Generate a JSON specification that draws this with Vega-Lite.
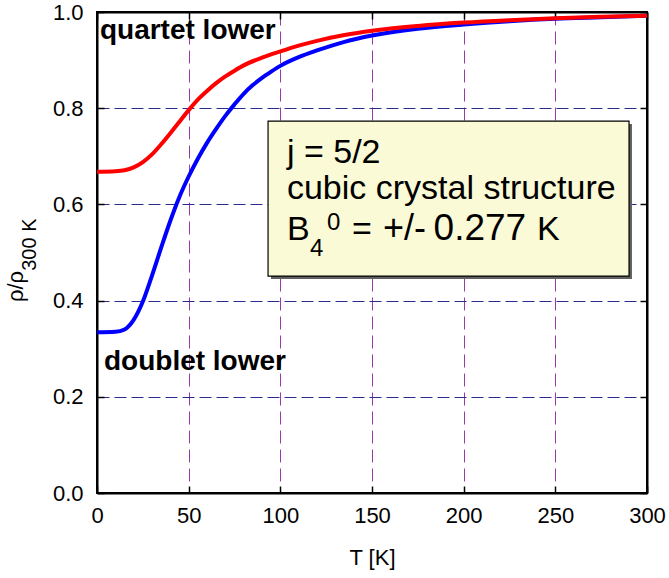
{
  "$schema": "https://vega.github.io/schema/vega-lite/v6.json",
  "width": 550,
  "height": 481,
  "autosize": {"type": "none"},
  "padding": {"left": 97, "top": 12, "right": 22, "bottom": 85},
  "background": "white",
  "config": {
    "view": {"stroke": "black", "strokeWidth": 2},
    "font": "Liberation Sans"
  },
  "datasets": {
    "curves": [
      {"T": 0, "rho": 0.334, "series": "doublet lower"},
      {"T": 10, "rho": 0.335, "series": "doublet lower"},
      {"T": 15, "rho": 0.34, "series": "doublet lower"},
      {"T": 20, "rho": 0.36, "series": "doublet lower"},
      {"T": 25, "rho": 0.398, "series": "doublet lower"},
      {"T": 30, "rho": 0.452, "series": "doublet lower"},
      {"T": 35, "rho": 0.51, "series": "doublet lower"},
      {"T": 40, "rho": 0.566, "series": "doublet lower"},
      {"T": 45, "rho": 0.616, "series": "doublet lower"},
      {"T": 50, "rho": 0.658, "series": "doublet lower"},
      {"T": 55, "rho": 0.695, "series": "doublet lower"},
      {"T": 60, "rho": 0.728, "series": "doublet lower"},
      {"T": 65, "rho": 0.757, "series": "doublet lower"},
      {"T": 70, "rho": 0.784, "series": "doublet lower"},
      {"T": 75, "rho": 0.808, "series": "doublet lower"},
      {"T": 80, "rho": 0.83, "series": "doublet lower"},
      {"T": 85, "rho": 0.848, "series": "doublet lower"},
      {"T": 90, "rho": 0.863, "series": "doublet lower"},
      {"T": 95, "rho": 0.876, "series": "doublet lower"},
      {"T": 100, "rho": 0.888, "series": "doublet lower"},
      {"T": 110, "rho": 0.906, "series": "doublet lower"},
      {"T": 120, "rho": 0.92, "series": "doublet lower"},
      {"T": 135, "rho": 0.938, "series": "doublet lower"},
      {"T": 150, "rho": 0.951, "series": "doublet lower"},
      {"T": 175, "rho": 0.965, "series": "doublet lower"},
      {"T": 200, "rho": 0.974, "series": "doublet lower"},
      {"T": 225, "rho": 0.981, "series": "doublet lower"},
      {"T": 250, "rho": 0.986, "series": "doublet lower"},
      {"T": 275, "rho": 0.989, "series": "doublet lower"},
      {"T": 300, "rho": 0.992, "series": "doublet lower"},
      {"T": 0, "rho": 0.668, "series": "quartet lower"},
      {"T": 10, "rho": 0.669, "series": "quartet lower"},
      {"T": 15, "rho": 0.671, "series": "quartet lower"},
      {"T": 20, "rho": 0.677, "series": "quartet lower"},
      {"T": 25, "rho": 0.688, "series": "quartet lower"},
      {"T": 30, "rho": 0.704, "series": "quartet lower"},
      {"T": 35, "rho": 0.725, "series": "quartet lower"},
      {"T": 40, "rho": 0.748, "series": "quartet lower"},
      {"T": 45, "rho": 0.772, "series": "quartet lower"},
      {"T": 50, "rho": 0.796, "series": "quartet lower"},
      {"T": 55, "rho": 0.818, "series": "quartet lower"},
      {"T": 60, "rho": 0.836, "series": "quartet lower"},
      {"T": 65, "rho": 0.852, "series": "quartet lower"},
      {"T": 70, "rho": 0.866, "series": "quartet lower"},
      {"T": 75, "rho": 0.878, "series": "quartet lower"},
      {"T": 80, "rho": 0.889, "series": "quartet lower"},
      {"T": 90, "rho": 0.905, "series": "quartet lower"},
      {"T": 100, "rho": 0.918, "series": "quartet lower"},
      {"T": 110, "rho": 0.93, "series": "quartet lower"},
      {"T": 120, "rho": 0.94, "series": "quartet lower"},
      {"T": 135, "rho": 0.952, "series": "quartet lower"},
      {"T": 150, "rho": 0.961, "series": "quartet lower"},
      {"T": 175, "rho": 0.971, "series": "quartet lower"},
      {"T": 200, "rho": 0.978, "series": "quartet lower"},
      {"T": 225, "rho": 0.983, "series": "quartet lower"},
      {"T": 250, "rho": 0.987, "series": "quartet lower"},
      {"T": 275, "rho": 0.99, "series": "quartet lower"},
      {"T": 300, "rho": 0.992, "series": "quartet lower"}
    ]
  },
  "resolve": {"axis": {"x": "independent", "y": "independent"}},
  "layer": [
    {
      "data": {"name": "curves"},
      "mark": {"type": "line", "strokeWidth": 4, "interpolate": "monotone"},
      "encoding": {
        "x": {
          "field": "T", "type": "quantitative",
          "scale": {"domain": [0, 300], "nice": false, "zero": false},
          "axis": {
            "orient": "bottom",
            "values": [0, 50, 100, 150, 200, 250, 300],
            "title": "T [K]",
            "titleFont": "Liberation Sans", "titleFontSize": 22, "titleFontWeight": "normal", "titleColor": "black", "titlePadding": 21,
            "labelFont": "Liberation Sans", "labelFontSize": 22, "labelColor": "black", "labelPadding": 19, "labelFlush": false,
            "tickSize": -7, "tickColor": "black", "tickWidth": 1.5,
            "domainColor": "black", "domainWidth": 2,
            "grid": true, "gridColor": "#9a3aaa", "gridDash": [13, 6], "gridWidth": 1
          }
        },
        "y": {
          "field": "rho", "type": "quantitative",
          "scale": {"domain": [0, 1], "nice": false, "zero": false},
          "axis": {
            "orient": "left",
            "values": [0, 0.2, 0.4, 0.6, 0.8, 1.0],
            "format": ".1f",
            "title": null,
            "labelFont": "Liberation Sans", "labelFontSize": 22, "labelColor": "black", "labelPadding": 21, "labelFlush": false,
            "tickSize": -7, "tickColor": "black", "tickWidth": 1.5,
            "domainColor": "black", "domainWidth": 2,
            "grid": true, "gridColor": "#2a2a90", "gridDash": [12, 5], "gridWidth": 1
          }
        },
        "color": {
          "field": "series", "type": "nominal",
          "scale": {"domain": ["quartet lower", "doublet lower"], "range": ["#ff0000", "#0000ff"]},
          "legend": null
        }
      }
    },
    {
      "data": {"name": "curves"},
      "mark": {"type": "point", "opacity": 0},
      "encoding": {
        "x": {
          "field": "T", "type": "quantitative",
          "axis": {"orient": "top", "values": [0, 50, 100, 150, 200, 250, 300], "labels": false, "title": null, "grid": false,
                   "tickSize": -7, "tickColor": "black", "tickWidth": 1.5, "domainColor": "black", "domainWidth": 2}
        },
        "y": {
          "field": "rho", "type": "quantitative",
          "axis": {"orient": "right", "values": [0, 0.2, 0.4, 0.6, 0.8, 1.0], "labels": false, "title": null, "grid": false,
                   "tickSize": -7, "tickColor": "black", "tickWidth": 1.5, "domainColor": "black", "domainWidth": 2}
        }
      }
    },
    {
      "data": {"values": [{}]},
      "mark": {"type": "rect", "color": "#606060"},
      "encoding": {
        "x": {"datum": 94.9, "type": "quantitative", "axis": null},
        "x2": {"datum": 291.8},
        "y": {"datum": 0.767, "type": "quantitative", "axis": null},
        "y2": {"datum": 0.445}
      }
    },
    {
      "data": {"values": [{}]},
      "mark": {"type": "rect", "fill": "#fafad6", "stroke": "black", "strokeWidth": 1.2},
      "encoding": {
        "x": {"datum": 93.3, "type": "quantitative", "axis": null},
        "x2": {"datum": 290.2},
        "y": {"datum": 0.773, "type": "quantitative", "axis": null},
        "y2": {"datum": 0.451}
      }
    },
    {
      "data": {"values": [{}]},
      "mark": {"type": "text", "text": "j = 5/2", "fontSize": 34, "align": "left", "baseline": "alphabetic", "color": "black"},
      "encoding": {"x": {"datum": 103.6, "type": "quantitative", "axis": null}, "y": {"datum": 0.686, "type": "quantitative", "axis": null}}
    },
    {
      "data": {"values": [{}]},
      "mark": {"type": "text", "text": "cubic crystal structure", "fontSize": 34, "align": "left", "baseline": "alphabetic", "color": "black"},
      "encoding": {"x": {"datum": 103.6, "type": "quantitative", "axis": null}, "y": {"datum": 0.611, "type": "quantitative", "axis": null}}
    },
    {
      "data": {"values": [{}]},
      "mark": {"type": "text", "text": "B", "fontSize": 34, "align": "left", "baseline": "alphabetic", "color": "black"},
      "encoding": {"x": {"datum": 103.6, "type": "quantitative", "axis": null}, "y": {"datum": 0.526, "type": "quantitative", "axis": null}}
    },
    {
      "data": {"values": [{}]},
      "mark": {"type": "text", "text": "4", "fontSize": 24, "align": "left", "baseline": "alphabetic", "color": "black"},
      "encoding": {"x": {"datum": 116.2, "type": "quantitative", "axis": null}, "y": {"datum": 0.4917, "type": "quantitative", "axis": null}}
    },
    {
      "data": {"values": [{}]},
      "mark": {"type": "text", "text": "0", "fontSize": 24, "align": "left", "baseline": "alphabetic", "color": "black"},
      "encoding": {"x": {"datum": 125.5, "type": "quantitative", "axis": null}, "y": {"datum": 0.547, "type": "quantitative", "axis": null}}
    },
    {
      "data": {"values": [{}]},
      "mark": {"type": "text", "text": "=", "fontSize": 34, "align": "left", "baseline": "alphabetic", "color": "black"},
      "encoding": {"x": {"datum": 139.1, "type": "quantitative", "axis": null}, "y": {"datum": 0.526, "type": "quantitative", "axis": null}}
    },
    {
      "data": {"values": [{}]},
      "mark": {"type": "text", "text": "+/-", "fontSize": 36, "align": "left", "baseline": "alphabetic", "color": "black"},
      "encoding": {"x": {"datum": 156.0, "type": "quantitative", "axis": null}, "y": {"datum": 0.526, "type": "quantitative", "axis": null}}
    },
    {
      "data": {"values": [{}]},
      "mark": {"type": "text", "text": "0.277", "fontSize": 37, "align": "left", "baseline": "alphabetic", "color": "black"},
      "encoding": {"x": {"datum": 183.6, "type": "quantitative", "axis": null}, "y": {"datum": 0.526, "type": "quantitative", "axis": null}}
    },
    {
      "data": {"values": [{}]},
      "mark": {"type": "text", "text": "K", "fontSize": 34, "align": "left", "baseline": "alphabetic", "color": "black"},
      "encoding": {"x": {"datum": 240.0, "type": "quantitative", "axis": null}, "y": {"datum": 0.526, "type": "quantitative", "axis": null}}
    },
    {
      "data": {"values": [{}]},
      "mark": {"type": "text", "text": "quartet lower", "fontSize": 28, "fontWeight": "bold", "align": "left", "baseline": "alphabetic", "color": "black"},
      "encoding": {"x": {"datum": 1.6, "type": "quantitative", "axis": null}, "y": {"datum": 0.944, "type": "quantitative", "axis": null}}
    },
    {
      "data": {"values": [{}]},
      "mark": {"type": "text", "text": "doublet lower", "fontSize": 28, "fontWeight": "bold", "align": "left", "baseline": "alphabetic", "color": "black"},
      "encoding": {"x": {"datum": 3.8, "type": "quantitative", "axis": null}, "y": {"datum": 0.256, "type": "quantitative", "axis": null}}
    },
    {
      "data": {"values": [{}]},
      "mark": {"type": "text", "text": "ρ/ρ", "fontSize": 22, "angle": 270, "align": "left", "baseline": "alphabetic", "color": "black"},
      "encoding": {"x": {"datum": -40.6, "type": "quantitative", "axis": null}, "y": {"datum": 0.397, "type": "quantitative", "axis": null}}
    },
    {
      "data": {"values": [{}]},
      "mark": {"type": "text", "text": "300 K", "fontSize": 20, "angle": 270, "align": "left", "baseline": "alphabetic", "color": "black"},
      "encoding": {"x": {"datum": -33.5, "type": "quantitative", "axis": null}, "y": {"datum": 0.462, "type": "quantitative", "axis": null}}
    }
  ]
}
